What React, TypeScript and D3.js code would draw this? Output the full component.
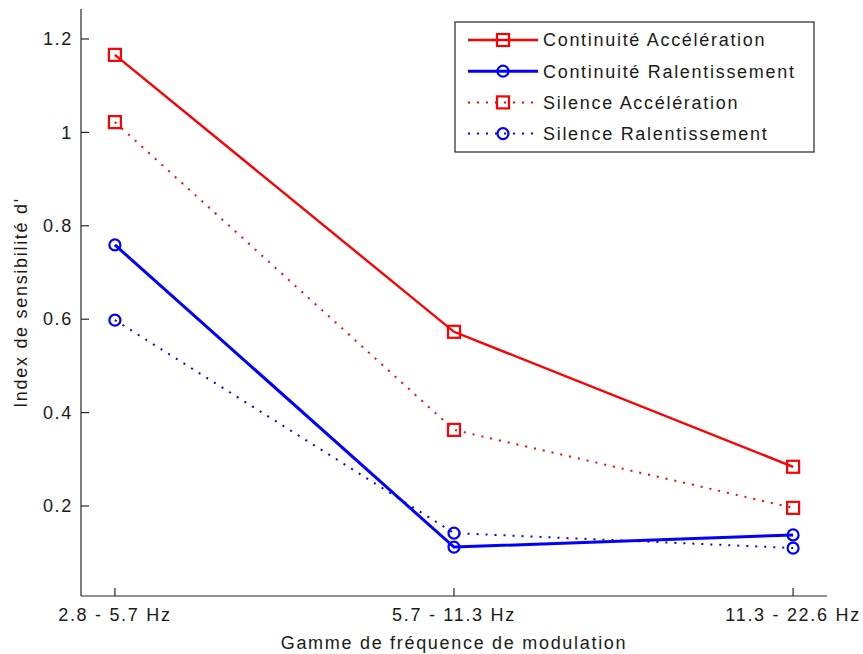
import React from "react";
import * as d3 from "d3";

// Modulation frequency ranges (x categories)
const categories = ["2.8 - 5.7 Hz", "5.7 - 11.3 Hz", "11.3 - 22.6 Hz"];

// Sensitivity index d' per condition
const continuiteAcceleration = [1.166, 0.573, 0.284];
const continuiteRalentissement = [0.759, 0.112, 0.138];
const silenceAcceleration = [1.022, 0.363, 0.196];
const silenceRalentissement = [0.598, 0.142, 0.110];

const yTicks = [0.2, 0.4, 0.6, 0.8, 1.0, 1.2];
const yTickLabels = ["0.2", "0.4", "0.6", "0.8", "1", "1.2"];

type Series = {
  name: string;
  values: number[];
  color: string;
  dotted: boolean;
  marker: "square" | "circle";
};

const series: Series[] = [
  { name: "Continuité Accélération", values: continuiteAcceleration, color: "#ff0000", dotted: false, marker: "square" },
  { name: "Continuité Ralentissement", values: continuiteRalentissement, color: "#0000ff", dotted: false, marker: "circle" },
  { name: "Silence Accélération", values: silenceAcceleration, color: "#ff0000", dotted: true, marker: "square" },
  { name: "Silence Ralentissement", values: silenceRalentissement, color: "#0000ff", dotted: true, marker: "circle" },
];

const W = 863;
const H = 654;
const left = 81;
const right = 827;
const top = 9;
const bottom = 596;

const FONT = "'Liberation Sans', Arial, Helvetica, sans-serif";
const FS = 18;
const LS = 1.7;
const AXIS = "#262626";

function Marker({ kind, x, y, color }: { kind: "square" | "circle"; x: number; y: number; color: string }) {
  if (kind === "square") {
    const s = 12;
    return <rect x={x - s / 2} y={y - s / 2} width={s} height={s} fill="none" stroke={color} strokeWidth={2.2} />;
  }
  return <circle cx={x} cy={y} r={5.5} fill="none" stroke={color} strokeWidth={2.2} />;
}

export default function App() {
  const x = d3.scaleLinear().domain([-0.1, categories.length - 1 + 0.1]).range([left, right]);
  const y = d3.scaleLinear().domain([0.0073, 1.2642]).range([bottom, top]);

  const line = d3
    .line<number>()
    .x((_, i) => x(i))
    .y((v) => y(v));

  // Legend layout
  const lgX = 455;
  const lgY = 22;
  const lgW = 359;
  const lgH = 130;
  const rowY = (i: number) => lgY + 18 + i * 31.2;

  const strokeW = (s: Series) => (s.dotted ? 2 : s.color === "#0000ff" ? 3 : 2.4);

  return (
    <svg
      width={W}
      height={H}
      style={{ position: "absolute", left: 0, top: 0, background: "#fff" }}
      fontFamily={FONT}
    >
      <rect width={W} height={H} fill="#fff" />

      {/* Axes */}
      <line x1={left} x2={left} y1={top} y2={bottom} stroke={AXIS} strokeWidth={1.2} />
      <line x1={left} x2={right} y1={bottom} y2={bottom} stroke={AXIS} strokeWidth={1.2} />

      {yTicks.map((t, i) => (
        <g key={"yt" + i}>
          <line x1={left} x2={left + 8} y1={y(t)} y2={y(t)} stroke={AXIS} strokeWidth={1.2} />
          <text
            x={left - 8}
            y={y(t)}
            dy="0.35em"
            textAnchor="end"
            fontSize={FS}
            letterSpacing={LS}
            fill="#1a1a1a"
          >
            {yTickLabels[i]}
          </text>
        </g>
      ))}

      {categories.map((c, i) => (
        <g key={"xt" + i}>
          <line x1={x(i)} x2={x(i)} y1={bottom} y2={bottom - 8} stroke={AXIS} strokeWidth={1.2} />
          <text x={x(i)} y={bottom + 25} textAnchor="middle" fontSize={FS} letterSpacing={LS} fill="#1a1a1a">
            {c}
          </text>
        </g>
      ))}

      <text
        x={(left + right) / 2}
        y={bottom + 53}
        textAnchor="middle"
        fontSize={FS}
        letterSpacing={LS}
        fill="#1a1a1a"
      >
        Gamme de fréquence de modulation
      </text>
      <text
        transform={`translate(27, ${(top + bottom) / 2}) rotate(-90)`}
        textAnchor="middle"
        fontSize={FS}
        letterSpacing={LS}
        fill="#1a1a1a"
      >
        Index de sensibilité d'
      </text>

      {/* Series */}
      {series.map((s) => (
        <g key={s.name}>
          <path
            d={line(s.values) || ""}
            fill="none"
            stroke={s.color}
            strokeWidth={strokeW(s)}
            strokeDasharray={s.dotted ? "2 7" : undefined}
          />
          {s.values.map((v, i) => (
            <Marker key={i} kind={s.marker} x={x(i)} y={y(v)} color={s.color} />
          ))}
        </g>
      ))}

      {/* Legend */}
      <rect x={lgX} y={lgY} width={lgW} height={lgH} fill="#fff" stroke={AXIS} strokeWidth={1.2} />
      {series.map((s, i) => (
        <g key={"lg" + i}>
          <line
            x1={lgX + 13}
            x2={lgX + 83}
            y1={rowY(i)}
            y2={rowY(i)}
            stroke={s.color}
            strokeWidth={strokeW(s)}
            strokeDasharray={s.dotted ? "2 7" : undefined}
          />
          <Marker kind={s.marker} x={lgX + 48} y={rowY(i)} color={s.color} />
          <text x={lgX + 88} y={rowY(i)} dy="0.35em" fontSize={FS} letterSpacing={LS} fill="#1a1a1a">
            {s.name}
          </text>
        </g>
      ))}
    </svg>
  );
}
